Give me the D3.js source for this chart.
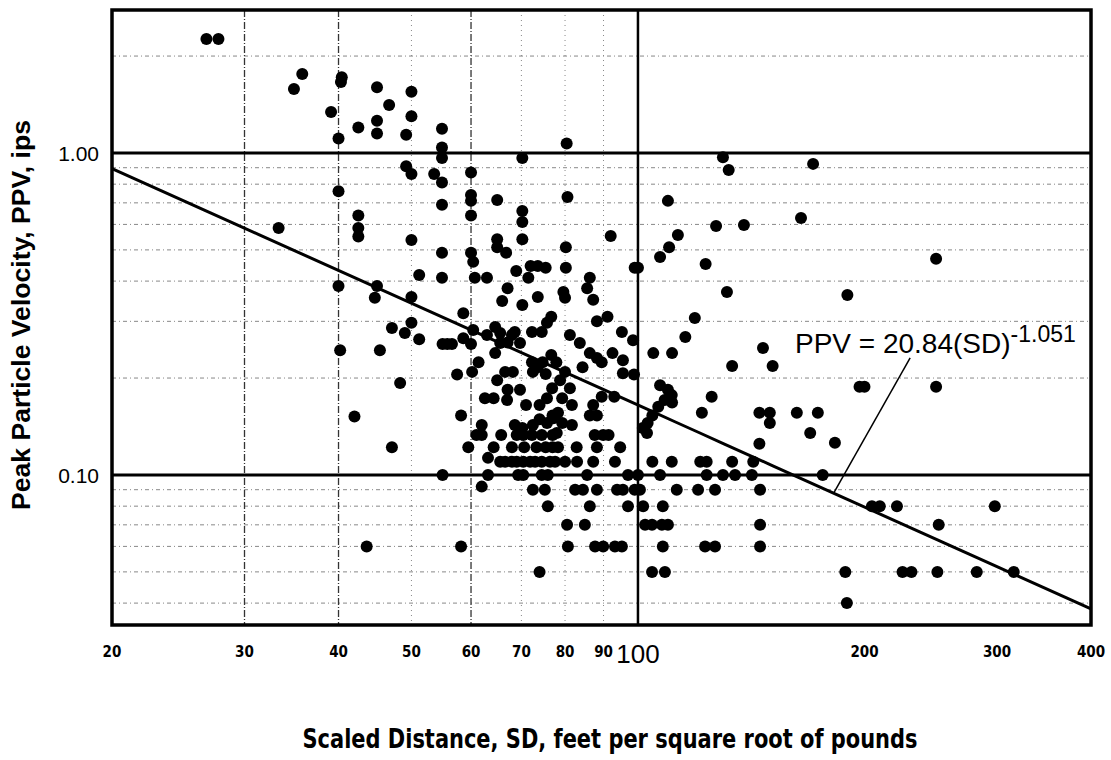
<!DOCTYPE html>
<html>
<head>
<meta charset="utf-8">
<script src="https://cdn.jsdelivr.net/npm/d3@7"></script>
<style>
  body { margin: 0; background: #fff; }
  svg { display: block; }
</style>
</head>
<body>
<div class="chart"></div>
<script>
// axis ticks and grid values
const xTickValues = [20, 30, 40, 50, 60, 70, 80, 90, 100, 200, 300, 400]
const xDarkGrid = [30, 40, 60]
const xFaintGrid = [50, 70, 80, 90]
const xSolidGrid = [100]
const yTickValues = [1.0, 0.1]
const yMinorGrid = [2, 0.9, 0.8, 0.7, 0.6, 0.5, 0.4, 0.3, 0.2, 0.09, 0.08, 0.07, 0.06, 0.05, 0.04]

// fit: PPV = a * SD^b
const fitA = 20.84
const fitB = -1.051
const leaderFrom = [230, 0.231]
const leaderToSD = 182

// measured points [SD, PPV]
const points = [
  [26.7, 2.26], [27.7, 2.26],
  [35.8, 1.76], [34.9, 1.58], [40.4, 1.72], [40.3, 1.66], [45, 1.60], [50, 1.55], [46.7, 1.41], [50, 1.30],
  [39.1, 1.34], [42.5, 1.20], [45, 1.26], [45, 1.15], [49.2, 1.14], [40, 1.11], [54.9, 1.19], [54.9, 1.04],
  [54.9, 0.965], [49.2, 0.91], [50, 0.86], [53.6, 0.86], [54.9, 0.81], [60, 0.87], [60, 0.74], [60, 0.71],
  [60, 0.64], [54.9, 0.69], [40, 0.76], [42.5, 0.64], [42.5, 0.585], [42.5, 0.55], [50, 0.537], [33.3, 0.585],
  [54.9, 0.49], [60, 0.49], [60.4, 0.459], [51.2, 0.418], [54.9, 0.41], [60.7, 0.41], [63, 0.41], [40, 0.386],
  [45, 0.386], [44.7, 0.355], [50, 0.357], [58.6, 0.318],
  [60.4, 0.282], [58.6, 0.266], [47.1, 0.286], [50, 0.297], [49, 0.276], [51.2, 0.264], [55, 0.255], [56.6, 0.255],
  [55.8, 0.255], [60, 0.255], [40.2, 0.244], [45.4, 0.244], [61.4, 0.224], [60.2, 0.209], [57.5, 0.205], [48.3, 0.193],
  [62.6, 0.173], [42, 0.152], [58.2, 0.153], [62, 0.143], [61, 0.133], [62, 0.133], [47.1, 0.122], [59.5, 0.122],
  [63.2, 0.113], [55, 0.10], [63.2, 0.10], [62, 0.092], [43.6, 0.06], [58.2, 0.06],
  [80.4, 1.07], [70.2, 0.965], [129.7, 0.97], [132, 0.885], [170.9, 0.925], [65, 0.715], [80.6, 0.73], [109.6, 0.71],
  [70.2, 0.66], [70.2, 0.61], [127, 0.593], [138.3, 0.597], [164.7, 0.628], [113, 0.556], [70.2, 0.54], [65, 0.54],
  [65, 0.51], [66.8, 0.49], [80.2, 0.51], [92, 0.552], [110, 0.51], [107, 0.475], [123, 0.452], [131.3, 0.37],
  [189.8, 0.362], [72, 0.446], [73.6, 0.446], [75.4, 0.44], [68.9, 0.43], [80.2, 0.44], [71.5, 0.41], [86.3, 0.41],
  [99, 0.44], [100, 0.44], [85.6, 0.38], [67.1, 0.38], [73.6, 0.357], [79.6, 0.37], [80, 0.355], [87.2, 0.35],
  [66, 0.347], [70.2, 0.337], [76.7, 0.31], [91.1, 0.31], [119, 0.307],
  [88.2, 0.30], [115.6, 0.268], [146.6, 0.248], [151, 0.218], [133.4, 0.218], [197, 0.188], [200, 0.188],
  [95.2, 0.278], [98.5, 0.262], [104.8, 0.239], [111, 0.239],
  [64.6, 0.288], [65.6, 0.276], [68, 0.272], [68.6, 0.278], [75.7, 0.297], [74.5, 0.278], [72.3, 0.278],
  [69.7, 0.257], [67.1, 0.258], [65.6, 0.257], [63, 0.272], [64.6, 0.239],
  [72.3, 0.224], [73.6, 0.216], [74.7, 0.224], [76.7, 0.236], [77.9, 0.224],
  [72.5, 0.209], [75.4, 0.206], [66.6, 0.209], [68.2, 0.209], [65, 0.197],
  [81.2, 0.272], [83.7, 0.257], [86.3, 0.239], [88.2, 0.231], [89.5, 0.224], [92.5, 0.239], [95.5, 0.227],
  [84.4, 0.216], [95.5, 0.207], [98.8, 0.205], [80, 0.209], [78.8, 0.197],
  [67.1, 0.184], [69.7, 0.184], [67, 0.171], [64.3, 0.173],
  [76.9, 0.186], [81.2, 0.186], [75.7, 0.173], [79.3, 0.173], [71, 0.165], [74, 0.165], [81.7, 0.165],
  [77, 0.153], [78.3, 0.156], [87.2, 0.165], [86.3, 0.153], [88.2, 0.153], [89.5, 0.175], [93, 0.175],
  [107, 0.19], [109.6, 0.184], [110.9, 0.177], [108.5, 0.171], [111, 0.168], [106.4, 0.163], [104.5, 0.153],
  [103, 0.145], [101.5, 0.14], [102.8, 0.135],
  [125.3, 0.175], [121.6, 0.156], [145, 0.156], [149.7, 0.156], [149.7, 0.145], [162.6, 0.156], [173.4, 0.156],
  [169.4, 0.135], [182.7, 0.126], [145, 0.125],
  [65.8, 0.133], [68.6, 0.143], [70.2, 0.14], [69, 0.133], [70.4, 0.133], [72.3, 0.133], [72.5, 0.143],
  [74, 0.149], [75.7, 0.145], [74.5, 0.133], [77, 0.133], [78, 0.135], [77.2, 0.15], [79.3, 0.145], [81.7, 0.143],
  [64.3, 0.122], [68, 0.122], [70.6, 0.122], [73.3, 0.122], [75.4, 0.122], [77, 0.122], [78.3, 0.122],
  [82.9, 0.122], [88.2, 0.122], [94.7, 0.122], [87.6, 0.133], [89.9, 0.133], [91.4, 0.133],
  [65.6, 0.11], [66.6, 0.11], [68, 0.11], [69, 0.11], [70.4, 0.11], [71.9, 0.11], [73, 0.11], [74.5, 0.11],
  [76.4, 0.11], [77.6, 0.11], [80, 0.11], [83, 0.11], [87.2, 0.11], [93.2, 0.11],
  [104.5, 0.11], [110.9, 0.11], [121, 0.11], [123.4, 0.11], [133.4, 0.11], [142.3, 0.11],
  [69.3, 0.10], [70.4, 0.10], [74.5, 0.10], [75.9, 0.10], [85.6, 0.10], [97, 0.10], [100, 0.10],
  [107, 0.10], [123.4, 0.10], [129.7, 0.10], [134.6, 0.10], [141.7, 0.10], [176, 0.10],
  [72.5, 0.09], [75.2, 0.09], [82.5, 0.09], [84.5, 0.09], [88.2, 0.09], [93.8, 0.09], [95.5, 0.09], [99, 0.09],
  [100.6, 0.09], [112.6, 0.09], [120.2, 0.09], [126.6, 0.09], [145.3, 0.09],
  [75.9, 0.08], [86.3, 0.08], [97, 0.08], [101.6, 0.08], [107.9, 0.08],
  [80.5, 0.07], [85, 0.07], [102.2, 0.07], [104.4, 0.07], [107.6, 0.07], [109.6, 0.07], [145.3, 0.07],
  [80.7, 0.06], [87.7, 0.06], [89.9, 0.06], [93.2, 0.06], [95.2, 0.06], [107.9, 0.06], [122.8, 0.06],
  [126.6, 0.06], [145.3, 0.06],
  [74, 0.05], [104.4, 0.05], [108.6, 0.05], [188.6, 0.05], [189.5, 0.04],
  [249, 0.469], [249, 0.188], [204.6, 0.08], [209.6, 0.08], [220.9, 0.08], [298, 0.08], [251, 0.07],
  [224.7, 0.05], [230.9, 0.05], [250, 0.05], [282, 0.05], [315.8, 0.05]
]

const width = 1111, height = 760
const plot = {left: 112, right: 1091, top: 10, bottom: 625}

const svg = d3.select(".chart")
  .append("svg")
    .attr("width", width)
    .attr("height", height)

const x = d3.scaleLog()
  .domain([20, 400])
  .range([plot.left, plot.right])

const y = d3.scaleLog()
  .domain([0.0342, 2.78])
  .range([plot.bottom, plot.top])

const narrow = "'Liberation Sans Narrow', 'Arial Narrow', 'DejaVu Sans Condensed', sans-serif"
const sans = "'Liberation Sans', Arial, Helvetica, sans-serif"

// grid lines
const grid = svg.append("g")

grid.selectAll(".hminor")
  .data(yMinorGrid)
  .join("line")
    .attr("x1", plot.left).attr("x2", plot.right)
    .attr("y1", d => y(d)).attr("y2", d => y(d))
    .attr("stroke", "#888")
    .attr("stroke-width", 1)
    .attr("stroke-dasharray", "4,3,1,3")

grid.selectAll(".vfaint")
  .data(xFaintGrid)
  .join("line")
    .attr("x1", d => x(d)).attr("x2", d => x(d))
    .attr("y1", plot.top).attr("y2", plot.bottom)
    .attr("stroke", "#888")
    .attr("stroke-width", 1)
    .attr("stroke-dasharray", "1,4")

grid.selectAll(".vdark")
  .data(xDarkGrid)
  .join("line")
    .attr("x1", d => x(d)).attr("x2", d => x(d))
    .attr("y1", plot.top).attr("y2", plot.bottom)
    .attr("stroke", "#333")
    .attr("stroke-width", 1.3)
    .attr("stroke-dasharray", "7,2,1,2")

grid.selectAll(".vsolid")
  .data(xSolidGrid)
  .join("line")
    .attr("x1", d => x(d)).attr("x2", d => x(d))
    .attr("y1", plot.top).attr("y2", plot.bottom)
    .attr("stroke", "#000")
    .attr("stroke-width", 2.5)

grid.selectAll(".hsolid")
  .data(yTickValues)
  .join("line")
    .attr("x1", plot.left).attr("x2", plot.right)
    .attr("y1", d => y(d)).attr("y2", d => y(d))
    .attr("stroke", "#000")
    .attr("stroke-width", 3)

// fitted line
const fitLine = d3.range(0, 41).map(i => {
  const sd = 20 * Math.pow(20, i / 40)
  return [sd, fitA * Math.pow(sd, fitB)]
})
svg.append("path")
  .datum(fitLine)
  .attr("fill", "none")
  .attr("stroke", "#000")
  .attr("stroke-width", 3)
  .attr("d", d3.line().x(d => x(d[0])).y(d => y(d[1])))

// dots
svg.append("g")
  .selectAll("circle")
  .data(points)
  .join("circle")
    .attr("cx", d => x(d[0]))
    .attr("cy", d => y(d[1]))
    .attr("r", 6)
    .attr("fill", "#000")

// plot frame
svg.append("rect")
  .attr("x", plot.left).attr("y", plot.top)
  .attr("width", plot.right - plot.left)
  .attr("height", plot.bottom - plot.top)
  .attr("fill", "none")
  .attr("stroke", "#000")
  .attr("stroke-width", 3.5)

// x tick labels
svg.append("g")
  .selectAll("text")
  .data(xTickValues)
  .join("text")
    .attr("x", d => x(d))
    .attr("y", d => d == 100 ? 663 : 657)
    .attr("text-anchor", "middle")
    .attr("font-family", d => d == 100 ? sans : narrow)
    .attr("font-weight", d => d == 100 ? "normal" : "bold")
    .attr("font-stretch", "condensed")
    .attr("font-size", d => d == 100 ? 26 : 15)
    .text(d => d)

// y tick labels
svg.append("g")
  .selectAll("text")
  .data(yTickValues)
  .join("text")
    .attr("x", 99)
    .attr("y", d => y(d))
    .attr("dy", "0.36em")
    .attr("text-anchor", "end")
    .attr("font-family", sans)
    .attr("font-size", 21)
    .text(d => d.toFixed(2))

// axis titles
svg.append("text")
  .attr("transform", "translate(30,315) rotate(-90)")
  .attr("text-anchor", "middle")
  .attr("font-family", sans)
  .attr("font-weight", "bold")
  .attr("font-size", 25)
  .attr("textLength", 390)
  .attr("lengthAdjust", "spacingAndGlyphs")
  .text("Peak Particle Velocity, PPV, ips")

svg.append("text")
  .attr("x", 610)
  .attr("y", 748)
  .attr("text-anchor", "middle")
  .attr("font-family", narrow)
  .attr("font-weight", "bold")
  .attr("font-stretch", "condensed")
  .attr("font-size", 27)
  .attr("textLength", 615)
  .attr("lengthAdjust", "spacingAndGlyphs")
  .text("Scaled Distance, SD, feet per square root of pounds")

// equation label with leader
svg.append("line")
  .attr("x1", x(leaderFrom[0])).attr("y1", y(leaderFrom[1]))
  .attr("x2", x(leaderToSD)).attr("y2", y(fitA * Math.pow(leaderToSD, fitB)))
  .attr("stroke", "#000")
  .attr("stroke-width", 1.5)

const eq = svg.append("text")
  .attr("x", 795)
  .attr("y", 353)
  .attr("font-family", sans)
  .attr("font-size", 28)
  .text("PPV = 20.84(SD)")
eq.append("tspan")
  .attr("dy", -11)
  .attr("font-size", 23)
  .text("-1.051")
</script>
</body>
</html>
